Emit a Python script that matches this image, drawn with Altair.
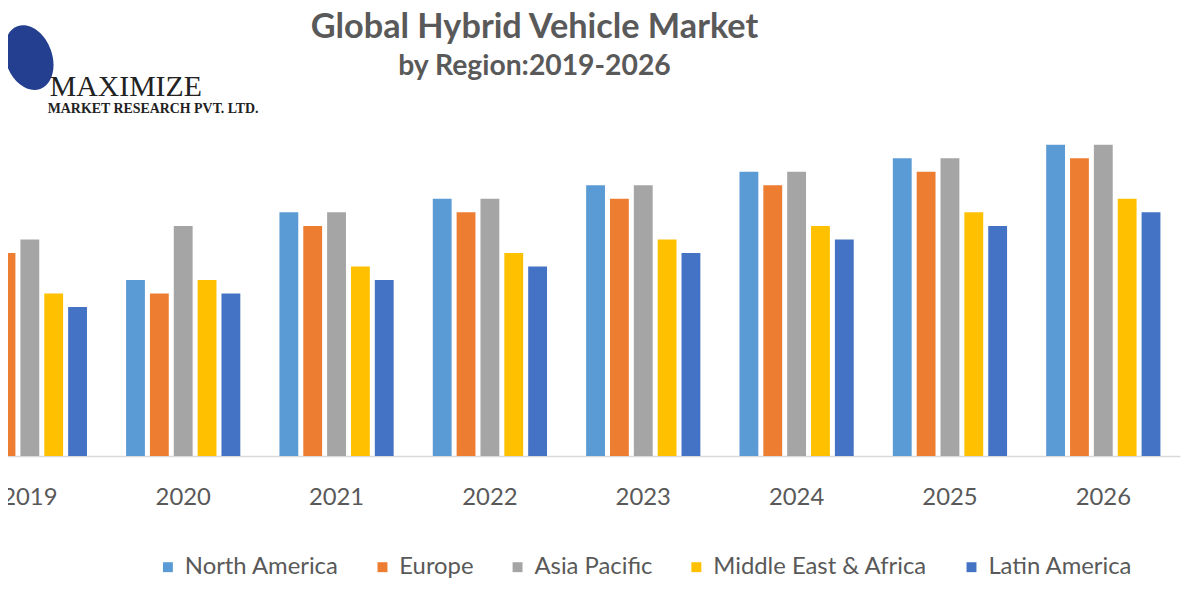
import altair as alt
import pandas as pd

years = ["2019", "2020", "2021", "2022", "2023", "2024", "2025", "2026"]
regions = ["North America", "Europe", "Asia Pacific", "Middle East & Africa", "Latin America"]
north_america = [14, 13, 18, 19, 20, 21, 22, 23]
europe = [15, 12, 17, 18, 19, 20, 21, 22]
asia_pacific = [16, 17, 18, 19, 20, 21, 22, 23]
middle_east_africa = [12, 13, 14, 15, 16, 17, 18, 19]
latin_america = [11, 12, 13, 14, 15, 16, 17, 18]
colors = ["#5B9BD5", "#ED7D31", "#A5A5A5", "#FFC000", "#4472C4"]

series = [north_america, europe, asia_pacific, middle_east_africa, latin_america]
rows = []
for r, vals in zip(regions, series):
    for y, v in zip(years, vals):
        rows.append({"year": y, "region": r, "value": v})
df = pd.DataFrame(rows)

W, H = 1184, 327
GREY = "#595959"

bars = alt.Chart(df).mark_bar().encode(
    x=alt.X("year:N", sort=years,
            scale=alt.Scale(range=[-55.2, 1179.9], paddingInner=0, paddingOuter=0),
            axis=alt.Axis(title=None, labelFont="Lato", labelFontSize=24, labelColor=GREY,
                          labelAngle=0, ticks=False, tickSize=0, labelPadding=30,
                          domainColor="#D9D9D9", domainWidth=1.5, grid=False)),
    xOffset=alt.XOffset("region:N", sort=regions,
                        scale=alt.Scale(paddingInner=0.21, paddingOuter=0.82)),
    y=alt.Y("value:Q", scale=alt.Scale(domain=[0, 24], nice=False, zero=True), axis=None),
    color=alt.Color("region:N", sort=regions,
                    scale=alt.Scale(domain=regions, range=colors),
                    legend=alt.Legend(title=None, orient="none", legendX=149, legendY=427,
                                      direction="horizontal", symbolType="square",
                                      symbolSize=100, symbolStrokeWidth=0,
                                      labelFont="Lato", labelFontSize=24, labelColor=GREY,
                                      labelOffset=5, columnPadding=32, labelLimit=0)),
)

logo_df = pd.DataFrame({"t": ["MAXIMIZE"]})
globe = alt.Chart(logo_df).mark_point(
    shape="M0,-1 A0.7,1 0 1,1 0,1 A0.7,1 0 1,1 0,-1 Z",
    filled=True, size=4489, angle=340, color="#243f8f", opacity=1,
).encode(x=alt.value(21), y=alt.value(-74))

brand = alt.Chart(logo_df).mark_text(
    text="MAXIMIZE", font="Liberation Serif", fontSize=30, color="#222222",
    align="left", baseline="alphabetic",
).encode(x=alt.value(42), y=alt.value(-35))

brand2 = alt.Chart(logo_df).mark_text(
    text="MARKET RESEARCH PVT. LTD.", font="Liberation Serif", fontSize=14,
    fontWeight="bold", color="#222222", align="left", baseline="alphabetic",
).encode(x=alt.value(40), y=alt.value(-18))

chart = alt.layer(globe, brand, brand2, bars).properties(
    width=W, height=H,
    title=alt.TitleParams(
        text="Global Hybrid Vehicle Market", subtitle="by Region:2019-2026",
        font="Lato", fontSize=34.5, fontWeight="bold", color=GREY,
        subtitleFont="Lato", subtitleFontSize=28.5, subtitleFontWeight="bold",
        subtitleColor=GREY, anchor="middle", frame="group", dx=-62, offset=0, dy=56,
        subtitlePadding=6,
    ),
    autosize=alt.AutoSizeParams(type="none"),
    padding={"left": 0, "top": 122, "right": 8, "bottom": 135},
    background="white",
).configure_view(stroke=None)

chart.save("out.html", embed_options={"renderer": "svg", "actions": False})
